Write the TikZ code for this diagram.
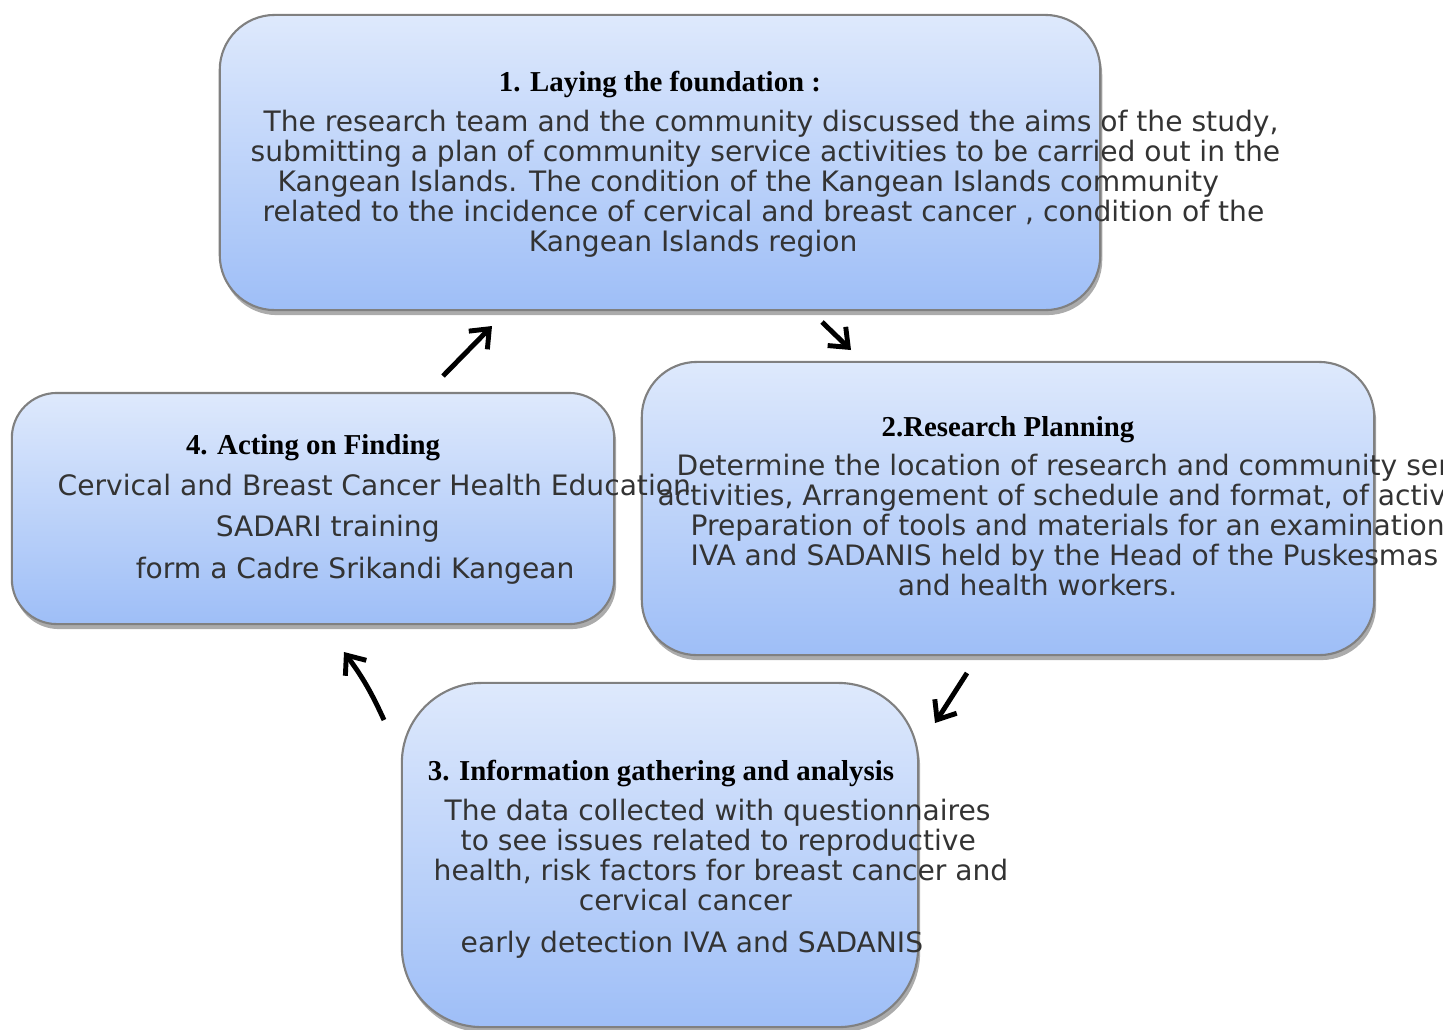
\documentclass[tikz,border=0pt]{standalone}
\usepackage{fontspec}
\usepackage{tikz}
\usetikzlibrary{arrows.meta,shadows}
\newfontfamily\bodyfont{DejaVu Sans}
\newfontfamily\headfont{Liberation Serif}
\definecolor{boxtop}{RGB}{222,233,252}
\definecolor{boxbottom}{RGB}{158,190,247}

\begin{document}
\begin{tikzpicture}[x=0.01cm,y=-0.01cm,
  stagebox/.style={draw=black!50, line width=0.6pt, rounded corners=#1,
    top color=boxtop, bottom color=boxbottom,
    drop shadow={shadow xshift=0.02cm, shadow yshift=-0.05cm, fill=black!55, opacity=0.6}},
  stagetitle/.style={font=\headfont\bfseries\fontsize{8.2}{10}\selectfont, anchor=base},
  stagetext/.style={font=\bodyfont\fontsize{8}{8.5}\selectfont, align=left,
    anchor=base west, inner sep=0pt, text=black!80},
  cyclearrow/.style={line width=1.4pt, -{Straight Barb[length=0.16cm, width=0.26cm]}}
]
\useasboundingbox (0,0) rectangle (1443,1029);

% Boxes
\node[stagebox=0.55cm, minimum width=8.8cm, minimum height=2.95cm] (foundation) at (660,162.5) {};
\node[stagebox=0.55cm, minimum width=7.32cm, minimum height=2.93cm] (planning) at (1008,508.5) {};
\node[stagebox=0.8cm, minimum width=5.16cm, minimum height=3.44cm] (gathering) at (660,855) {};
\node[stagebox=0.45cm, minimum width=6.02cm, minimum height=2.31cm] (acting) at (313,508.5) {};

% Titles
\node[stagetitle] (foundationTitle) at (660,91) {1. Laying the foundation :};
\node[stagetitle] (planningTitle) at (1008,436) {2.Research Planning};
\node[stagetitle] (gatheringTitle) at (661,780) {3. Information gathering and analysis};
\node[stagetitle] (actingTitle) at (313,454) {4. Acting on Finding};

% Texts (placed at the baseline of their last line)
\node[stagetext] (foundationText) at (250,251) {\hspace*{0.13cm}The research team and the community discussed the aims of the study,\\
submitting a plan of community service activities to be carried out in the\\
\hspace*{0.27cm}Kangean Islands. The condition of the Kangean Islands community\\
\hspace*{0.12cm}related to the incidence of cervical and breast cancer , condition of the\\
\hspace*{2.78cm}Kangean Islands region};
\node[stagetext] (planningText) at (657,595) {\hspace*{0.19cm}Determine the location of research and community service\\
activities, Arrangement of schedule and format, of activities,\\
\hspace*{0.33cm}Preparation of tools and materials for an examination\\
\hspace*{0.33cm}IVA and SADANIS held by the Head of the Puskesmas\\
\hspace*{2.40cm}and health workers.};
\node[stagetext] (gatheringText) at (433,952) {\hspace*{0.11cm}The data collected with questionnaires\\
\hspace*{0.27cm}to see issues related to reproductive\\
health, risk factors for breast cancer and\\
\hspace*{1.45cm}cervical cancer\\[3.4pt]
\hspace*{0.27cm}early detection IVA and SADANIS};
\node[stagetext, font=\bodyfont\fontsize{8}{11.7}\selectfont] (actingText) at (57,578) {Cervical and Breast Cancer Health Education\\
\hspace*{1.58cm}SADARI training\\
\hspace*{0.78cm}form a Cadre Srikandi Kangean};

% Arrow ends
\coordinate (foundStart) at (443,376);
\coordinate (foundEnd) at (492,326);
\coordinate (planStart) at (822,322);
\coordinate (planEnd) at (851,350);
\coordinate (gatherStart) at (967,673);
\coordinate (gatherEnd) at (935,723);
\coordinate (actStart) at (384,720);
\coordinate (actEnd) at (344,652);

% Arrows
\draw[cyclearrow] (foundStart) -- (foundEnd);
\draw[cyclearrow] (planStart) -- (planEnd);
\draw[cyclearrow] (gatherStart) -- (gatherEnd);
\draw[cyclearrow] (actStart) to[bend right=6] (actEnd);
\end{tikzpicture}
\end{document}
